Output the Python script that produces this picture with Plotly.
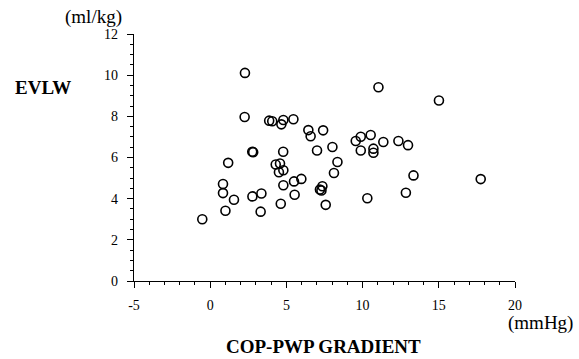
import plotly.graph_objects as go

# COP-PWP gradient (mmHg)
cop_pwp = [2.28, 2.26, 3.87, 4.07, 4.67, 4.80, 5.46, 6.44, 6.59, 7.41,
           2.76, 2.82, 4.79, 7.01, 8.02, 11.04, 15.01, 9.55, 9.88, 10.53,
           9.88, 10.71, 10.71, 11.36, 12.35, 12.98, 8.35, 8.12, 13.34, 17.75,
           10.31, 12.84, 1.18, 4.30, 4.58, 4.51, 4.80, 5.50, 5.98, 4.80,
           5.54, 4.63, 7.36, 7.20, 7.30, 7.58, 0.84, 0.84, 1.56, 1.00,
           -0.52, 2.77, 3.36, 3.31]
# EVLW (ml/kg)
evlw = [10.11, 7.97, 7.79, 7.76, 7.61, 7.82, 7.86, 7.33, 7.03, 7.32,
        6.28, 6.26, 6.28, 6.34, 6.51, 9.41, 8.77, 6.80, 7.01, 7.09,
        6.34, 6.43, 6.23, 6.75, 6.80, 6.60, 5.78, 5.25, 5.13, 4.95,
        4.02, 4.29, 5.74, 5.66, 5.71, 5.28, 5.38, 4.84, 4.96, 4.65,
        4.19, 3.75, 4.60, 4.44, 4.40, 3.70, 4.71, 4.27, 3.95, 3.41,
        3.00, 4.11, 4.25, 3.37]

x_ticks = [-5, 0, 5, 10, 15, 20]
y_ticks = [0, 2, 4, 6, 8, 10, 12]

W, H = 579, 359
L, R, T, B = 134, 64, 34, 78
pw, ph = W - L - R, H - T - B


def px(x):
    return (x - L) / pw


def py(y):
    return (H - B - y) / ph


SERIF = "Liberation Serif, Times New Roman, serif"

fig = go.Figure()
fig.add_trace(go.Scatter(
    x=cop_pwp, y=evlw, mode="markers",
    marker=dict(symbol="circle-open", size=9, color="black",
                line=dict(width=1.6, color="black")),
    showlegend=False, hoverinfo="x+y"))

axis_common = dict(showgrid=False, zeroline=False, showline=True,
                   linecolor="black", linewidth=1.4, ticks="outside",
                   ticklen=6, tickwidth=1.3, tickcolor="black",
                   tickfont=dict(family=SERIF, size=14, color="black"))

fig.update_xaxes(range=[-5, 20], tickvals=x_ticks,
                 ticktext=[str(v) for v in x_ticks],
                 minor=dict(dtick=1, ticks="outside", ticklen=3,
                            tickwidth=1.1, tickcolor="black"),
                 ticklabelstandoff=5, **axis_common)
fig.update_yaxes(range=[0, 12], tickvals=y_ticks,
                 ticktext=[str(v) for v in y_ticks],
                 minor=dict(dtick=0.5, ticks="outside", ticklen=3,
                            tickwidth=1.1, tickcolor="black"),
                 ticklabelstandoff=6, **axis_common)

annos = [
    dict(text="(ml/kg)", x=px(93), y=py(17), size=19),
    dict(text="<b>EVLW</b>", x=px(43), y=py(88), size=19),
    dict(text="(mmHg)", x=px(540), y=py(323), size=19),
    dict(text="<b>COP-PWP GRADIENT</b>", x=px(323), y=py(346), size=19),
]
for a in annos:
    fig.add_annotation(text=a["text"], x=a["x"], y=a["y"], xref="paper",
                       yref="paper", xanchor="center", yanchor="middle",
                       showarrow=False,
                       font=dict(family=SERIF, size=a["size"], color="black"))

fig.update_layout(width=W, height=H, margin=dict(l=L, r=R, t=T, b=B),
                  paper_bgcolor="white", plot_bgcolor="white")

fig.write_html("out.html", config={"displayModeBar": False},
               post_script="document.body.style.margin='0px';")
